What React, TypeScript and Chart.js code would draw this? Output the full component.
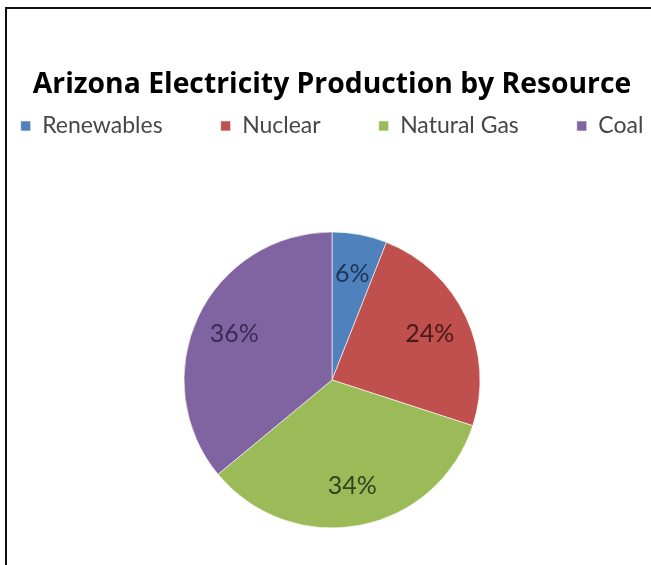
import React, { useEffect, useRef } from "react";
import { Chart, registerables } from "chart.js";

Chart.register(...registerables);

const titleText = "Arizona Electricity Production by Resource";
const categories = ["Renewables", "Nuclear", "Natural Gas", "Coal"];
const shares = [6, 24, 34, 36];
const sliceColors = ["#4F81BD", "#C0504D", "#9BBB59", "#8064A2"];
const labelColors = ["#1e3556", "#4a1916", "#34421c", "#3a2b56"];

const CANVAS_W = 800;
const CANVAS_H = 640;
const OFFSET_X = 70;

const sliceLabels = {
  id: "sliceLabels",
  afterDatasetsDraw(chart: any) {
    const ctx = chart.ctx;
    const meta = chart.getDatasetMeta(0);
    ctx.save();
    ctx.font = "25px Lato";
    ctx.textAlign = "center";
    ctx.textBaseline = "middle";
    meta.data.forEach((arc: any, i: number) => {
      const p = arc.getProps(["x", "y", "startAngle", "endAngle", "outerRadius"], true);
      const mid = (p.startAngle + p.endAngle) / 2;
      const r = p.outerRadius * 0.73;
      ctx.fillStyle = labelColors[i];
      ctx.fillText(shares[i] + "%", p.x + Math.cos(mid) * r, p.y + Math.sin(mid) * r);
    });
    ctx.restore();
  },
};

export default function App() {
  const ref = useRef<HTMLCanvasElement | null>(null);
  useEffect(() => {
    if (!ref.current) return;
    const chart = new Chart(ref.current, {
      type: "pie",
      data: {
        labels: categories,
        datasets: [
          {
            data: shares,
            backgroundColor: sliceColors,
            borderColor: "rgba(255,255,255,0.6)",
            borderWidth: 1,
            radius: 148,
          },
        ],
      },
      options: {
        responsive: false,
        animation: false,
        layout: { padding: { left: 4, right: 0, top: 0, bottom: 27.5 } },
        plugins: {
          tooltip: { enabled: false },
          title: {
            display: true,
            text: titleText,
            color: "#000",
            font: { family: "'Open Sans'", size: 28.3, weight: "bold" },
            padding: { top: 67.5, bottom: -45 },
          },
          legend: {
            position: "top",
            labels: {
              boxWidth: 10,
              boxHeight: 10,
              padding: 58,
              color: "#474747",
              font: { family: "Lato", size: 23 },
            },
          },
        },
      },
      plugins: [sliceLabels],
    });
    return () => chart.destroy();
  }, []);
  return (
    <div style={{ position: "fixed", left: 0, top: 0, width: 651, height: 565, overflow: "hidden", background: "#fff" }}>
      <canvas
        ref={ref}
        width={CANVAS_W}
        height={CANVAS_H}
        style={{ position: "absolute", left: -OFFSET_X, top: 0, width: CANVAS_W, height: CANVAS_H }}
      />
      <div
        style={{
          position: "absolute",
          left: 5,
          top: 7,
          width: 800,
          height: 800,
          borderLeft: "2px solid #111",
          borderTop: "2px solid #111",
          pointerEvents: "none",
        }}
      />
    </div>
  );
}
